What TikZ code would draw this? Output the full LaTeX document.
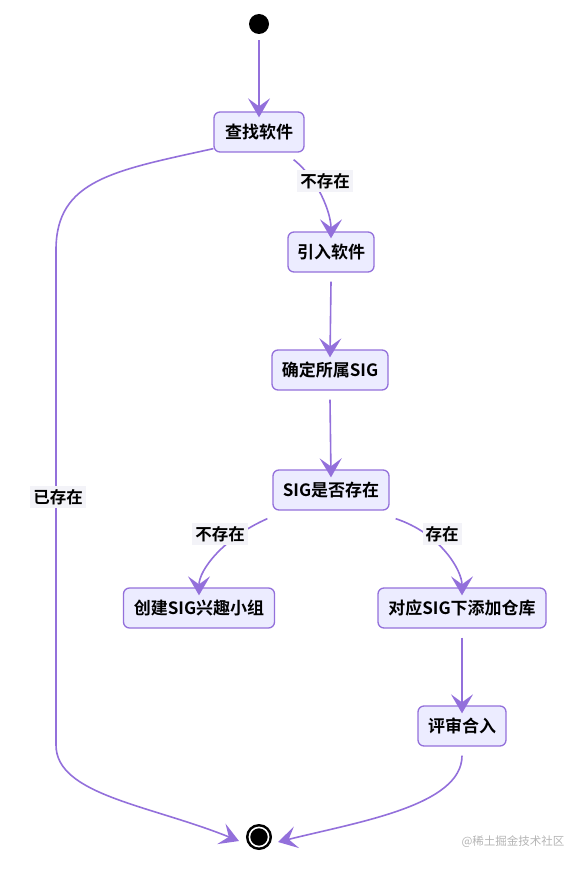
\documentclass[tikz,border=0pt]{standalone}
\usepackage{fontspec}
\newfontfamily\cjk{Noto Sans CJK SC}
\newfontfamily\cjkb{Noto Sans CJK SC}[UprightFont={* Bold}]
\usetikzlibrary{arrows.meta}
\definecolor{boxfill}{HTML}{ECECFF}
\definecolor{boxline}{HTML}{9370DB}
\definecolor{edgecol}{HTML}{9370DB}
\definecolor{lblfill}{HTML}{F3F3F8}
\definecolor{wm}{HTML}{B4B4B4}
\tikzset{
  st/.style={draw=boxline, fill=boxfill, line width=1.3pt, rounded corners=6pt,
    minimum height=40pt, inner xsep=8pt, font=\cjkb\fontsize{17}{20}\selectfont},
  edge/.style={draw=edgecol, line width=1.6pt,
    -{Stealth[length=19pt,width=22pt,inset=8pt]}},
  lbl/.style={fill=lblfill, inner sep=3pt, font=\cjkb\fontsize{16.5}{19}\selectfont}
}
\begin{document}
\begin{tikzpicture}[x=1pt,y=-1pt]
\useasboundingbox (0,0) rectangle (588,869);
\node[circle, fill=black, minimum size=20pt, inner sep=0pt] (start) at (259,24) {};
\node[st, minimum width=90pt] (find) at (259,132) {查找软件};
\node[st, minimum width=86pt] (intro) at (331,252) {引入软件};
\node[st, minimum width=116pt] (sig) at (330,370) {确定所属SIG};
\node[st, minimum width=116pt] (exist) at (331,490) {SIG是否存在};
\node[st, minimum width=151pt] (create) at (199,608) {创建SIG兴趣小组};
\node[st, minimum width=168pt] (add) at (462,608) {对应SIG下添加仓库};
\node[st, minimum width=88pt] (review) at (462,726) {评审合入};
\node[circle, fill=black, draw=black, line width=1pt, minimum size=25pt, inner sep=0pt] (end) at (259,837) {};
\draw[white, line width=1.6pt] (end.center) circle (9.6pt);
\coordinate (endL) at ([xshift=-20pt,yshift=-4pt]end.center);
\coordinate (endR) at ([xshift=19pt,yshift=-5pt]end.center);

\draw[edge] ([yshift=-6pt]start.south) -- ([yshift=-6pt]find.north);
\draw[edge] ([xshift=-11pt,yshift=-7pt]find.south east) .. controls +(25,20) and +(0,-25) .. ([yshift=-7pt]intro.north);
\draw[edge] (find.south west) ++(0,-4) .. controls +(-100,22) and +(0,-70) .. (56,250) -- (56,745) .. controls (56,795) and (150,805) .. (endL);
\draw[edge] ([yshift=-9pt]intro.south) -- ([yshift=-8pt]sig.north);
\draw[edge] ([yshift=-9pt]sig.south) -- ([yshift=-8pt]exist.north);
\draw[edge] ([xshift=-5pt,yshift=-8pt]exist.south west) .. controls +(-45,20) and +(0,-25) .. ([yshift=-8pt]create.north);
\draw[edge] ([xshift=6pt,yshift=-8pt]exist.south east) .. controls +(45,15) and +(0,-25) .. ([yshift=-8pt]add.north);
\draw[edge] ([yshift=-9pt]add.south) -- ([yshift=-8pt]review.north);
\draw[edge] ([yshift=-9pt]review.south) .. controls +(0,50) and +(80,-20) .. (endR);

\node[lbl] (l1) at (325,181) {不存在};
\node[lbl] (l2) at (58,497) {已存在};
\node[lbl] (l3) at (220,534) {不存在};
\node[lbl] (l4) at (442,534) {存在};
\node[text=wm, font=\cjk\fontsize{11.5}{13}\selectfont] (wmk) at (513,842) {@稀土掘金技术社区};
\end{tikzpicture}
\end{document}
